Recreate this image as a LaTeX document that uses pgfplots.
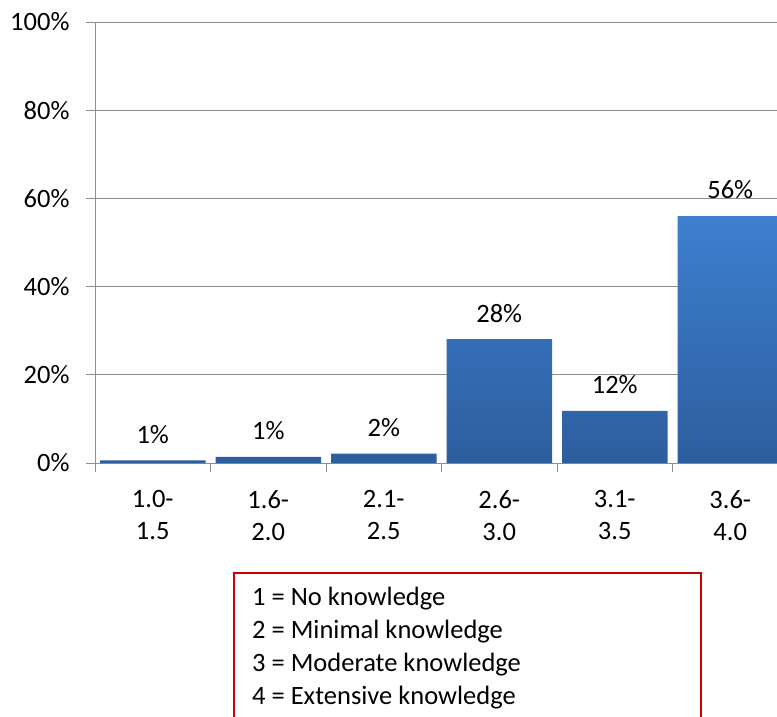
\documentclass[border=0pt]{standalone}
\usepackage{pgfplots}
\pgfplotsset{compat=1.18}
\usepackage{pgfplotstable}
\usepackage{fontspec}
\setmainfont{Carlito}
\definecolor{bartop}{HTML}{3D7FCF}
\definecolor{barbot}{HTML}{2D5E9E}
\definecolor{axgray}{HTML}{8E8E8E}
\definecolor{boxred}{HTML}{CC0000}
\pgfplotstableread{
x y lab
0 0.6 1
1 1.4 1
2 2.1 2
3 28.1 28
4 11.8 12
5 56.0 56
}\datatab
\begin{document}
\begin{tikzpicture}
\useasboundingbox (0pt,0pt) rectangle (777pt,-717pt);
\clip (0pt,0pt) rectangle (777pt,-717pt);
\begin{axis}[
  at={(95pt,-463pt)}, anchor=south west,
  scale only axis, width=693pt, height=441pt,
  xmin=-0.5, xmax=5.5, ymin=0, ymax=100,
  axis lines*=left,
  axis line style={draw=axgray, line width=1pt},
  ybar, bar width=105.5pt, bar shift=0pt,
  xtick={0,1,2,3,4,5},
  xticklabels={1.0-\\1.5,1.6-\\2.0,2.1-\\2.5,2.6-\\3.0,3.1-\\3.5,3.6-\\4.0},
  xticklabel style={align=center, font=\fontsize{26.5}{32}\selectfont, anchor=north, yshift=-15pt},
  major x tick style={draw=none},
  minor xtick={-0.5,0.5,1.5,2.5,3.5,4.5,5.5},
  minor x tick style={draw=axgray, line width=1pt},
  ytick={0,20,40,60,80,100},
  yticklabels={0\%,20\%,40\%,60\%,80\%,100\%},
  yticklabel style={font=\fontsize{26.5}{32}\selectfont, xshift=-13pt},
  major y tick style={draw=axgray, line width=1pt},
  tick align=outside, major tick length=9pt, minor tick length=9pt,
  ymajorgrids, grid style={draw=axgray, line width=1pt},
  nodes near coords={\pgfplotspointmeta\%},
  point meta=explicit symbolic,
  every node near coord/.style={font=\fontsize{26.5}{32}\selectfont, anchor=center, yshift=26pt, text=black},
  clip=false,
]
\addplot[draw=none, shading=axis, top color=bartop, bottom color=barbot, shading angle=0] table[x=x, y=y, meta=lab] {\datatab};
\end{axis}
\draw[boxred, line width=1.5pt] (234pt,-800pt) -- (234pt,-573pt) -- (701pt,-573pt) -- (701pt,-800pt);
\begin{scope}[font=\fontsize{26.5}{32}\selectfont]
\node[anchor=west, inner sep=0pt] at (252pt,-599pt) {1 = No knowledge};
\node[anchor=west, inner sep=0pt] at (252pt,-632pt) {2 = Minimal knowledge};
\node[anchor=west, inner sep=0pt] at (252pt,-665pt) {3 = Moderate knowledge};
\node[anchor=west, inner sep=0pt] at (252pt,-698pt) {4 = Extensive knowledge};
\end{scope}
\end{tikzpicture}
\end{document}
